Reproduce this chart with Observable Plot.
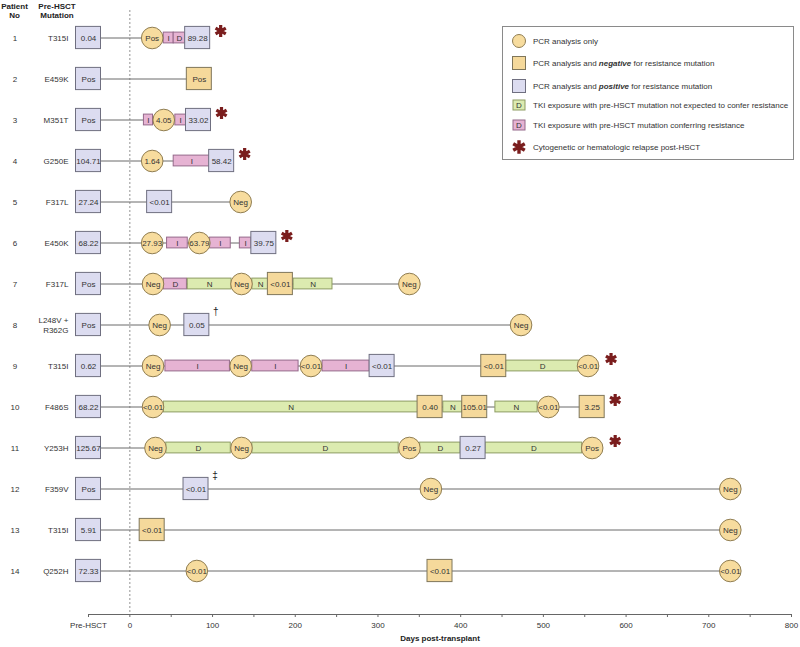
<!DOCTYPE html>
<html>
<head>
<meta charset="utf-8">
<script src="https://cdn.jsdelivr.net/npm/d3@7"></script>
<script src="https://cdn.jsdelivr.net/npm/@observablehq/plot@0.6"></script>
<style>
  body { margin: 0; background: #fff; font-family: "Liberation Sans", Arial, sans-serif; }
  #wrap { position: relative; width: 800px; height: 647px; }
  .hdr { position: absolute; font-weight: bold; font-size: 8px; line-height: 9px; text-align: center; color: #222; }
  #legend { position: absolute; left: 502px; top: 26px; width: 290px; height: 132px; border: 1px solid #8a8a8a; background: #fff; }
  #legend svg { display: block; }
</style>
</head>
<body>
<div id="wrap">
  <div class="hdr" style="left:0px;top:2px;width:29px;">Patient<br>No</div>
  <div class="hdr" style="left:32px;top:2px;width:50px;">Pre-HSCT<br>Mutation</div>
  <div id="chart"></div>
  <div id="legend"></div>
</div>
<script>
// ---------- data ----------
const patients = d3.range(1, 15);
const mutations = ["T315I","E459K","M351T","G250E","F317L","E450K","F317L","L248V +\nR362G","T315I","F486S","Y253H","F359V","T315I","Q252H"];
const preHSCTValues = ["0.04","Pos","Pos","104.71","27.24","68.22","Pos","Pos","0.62","68.22","125.67","Pos","5.91","72.33"];
const preHSCTDay = -50;

// PCR analysis only (circles)
const pcrOnly = [
  {p:1, day:27, label:"Pos"},
  {p:3, day:41, label:"4.05"},
  {p:4, day:27, label:"1.64"},
  {p:5, day:134, label:"Neg"},
  {p:6, day:27, label:"27.93"},
  {p:6, day:84, label:"63.79"},
  {p:7, day:28, label:"Neg"},
  {p:7, day:135, label:"Neg"},
  {p:7, day:338, label:"Neg"},
  {p:8, day:36, label:"Neg"},
  {p:8, day:473, label:"Neg"},
  {p:9, day:28, label:"Neg"},
  {p:9, day:134, label:"Neg"},
  {p:9, day:219, label:"<0.01"},
  {p:9, day:554, label:"<0.01"},
  {p:10, day:28, label:"<0.01"},
  {p:10, day:506, label:"<0.01"},
  {p:11, day:31, label:"Neg"},
  {p:11, day:135, label:"Neg"},
  {p:11, day:338, label:"Pos"},
  {p:11, day:559, label:"Pos"},
  {p:12, day:364, label:"Neg"},
  {p:12, day:726, label:"Neg"},
  {p:13, day:726, label:"Neg"},
  {p:14, day:81, label:"<0.01"},
  {p:14, day:726, label:"<0.01"}
];

// PCR analysis and negative for resistance mutation
const pcrNegative = [
  {p:2, day:84, label:"Pos"},
  {p:7, day:182, label:"<0.01"},
  {p:9, day:440, label:"<0.01"},
  {p:10, day:363, label:"0.40"},
  {p:10, day:417, label:"105.01"},
  {p:10, day:559, label:"3.25"},
  {p:13, day:27, label:"<0.01"},
  {p:14, day:375, label:"<0.01"}
];

// PCR analysis and positive for resistance mutation (post-HSCT)
const pcrPositive = [
  {p:1, day:82, label:"89.28"},
  {p:3, day:83, label:"33.02"},
  {p:4, day:111, label:"58.42"},
  {p:5, day:36, label:"<0.01"},
  {p:6, day:162, label:"39.75"},
  {p:8, day:81, label:"0.05", note:"\u2020"},
  {p:9, day:305, label:"<0.01"},
  {p:11, day:415, label:"0.27"},
  {p:12, day:80, label:"<0.01", note:"\u2021"}
];

// TKI exposure with pre-HSCT mutation conferring resistance
const tkiResistant = [
  {p:1, start:41, end:53, drug:"I"},
  {p:1, start:53, end:67, drug:"D"},
  {p:3, start:17, end:28, drug:"I"},
  {p:3, start:55, end:68, drug:"I"},
  {p:4, start:53, end:97, drug:"I"},
  {p:6, start:45, end:70, drug:"I"},
  {p:6, start:97, end:122, drug:"I"},
  {p:6, start:133, end:147, drug:"I"},
  {p:7, start:41, end:69, drug:"D"},
  {p:9, start:43, end:121, drug:"I"},
  {p:9, start:148, end:204, drug:"I"},
  {p:9, start:233, end:290, drug:"I"}
];

// TKI exposure with pre-HSCT mutation not expected to confer resistance
const tkiNotResistant = [
  {p:7, start:70, end:123, drug:"N"},
  {p:7, start:148, end:168, drug:"N"},
  {p:7, start:198, end:245, drug:"N"},
  {p:9, start:455, end:543, drug:"D"},
  {p:10, start:41, end:349, drug:"N"},
  {p:10, start:379, end:402, drug:"N"},
  {p:10, start:442, end:493, drug:"N"},
  {p:11, start:44, end:122, drug:"D"},
  {p:11, start:148, end:325, drug:"D"},
  {p:11, start:351, end:400, drug:"D"},
  {p:11, start:430, end:547, drug:"D"}
];

// Cytogenetic or hematologic relapse post-HSCT
const relapsePatients = [1, 3, 4, 6, 9, 10, 11];

const tickValues = d3.range(-50, 801, 50);
const tickLabels = tickValues.map(v => v === -50 ? "Pre-HSCT" : (v % 100 === 0 ? String(v) : ""));

const legendItems = [
  {kind:"circle", html:"PCR analysis only"},
  {kind:"neg", html:"PCR analysis and <tspan font-weight='bold' font-style='italic'>negative</tspan> for resistance mutation"},
  {kind:"pos", html:"PCR analysis and <tspan font-weight='bold' font-style='italic'>positive</tspan> for resistance mutation"},
  {kind:"green", html:"TKI exposure with pre-HSCT mutation not expected to confer resistance"},
  {kind:"pink", html:"TKI exposure with pre-HSCT mutation conferring resistance"},
  {kind:"star", html:"Cytogenetic or hematologic relapse post-HSCT"}
];

// ---------- styles ----------
const FONT = "'Liberation Sans', Arial, sans-serif";
const C = {
  circleFill: "#f7dc9e", circleStroke: "#8f7d52",
  negFill: "#f5d99b", negStroke: "#7f765a",
  posFill: "#dcdcf0", posStroke: "#6f6f80",
  pinkFill: "#e6b3d3", pinkStroke: "#94698a",
  greenFill: "#dcebb0", greenStroke: "#8d9b62",
  star: "#7a1d1d", line: "#6a6a6a", text: "#333"
};

// ---------- derived ----------
const preHSCT = patients.map((p, i) => ({p, day: preHSCTDay, label: preHSCTValues[i]}));
const allEvents = [...pcrOnly, ...pcrNegative, ...pcrPositive];
const rowSpans = patients.map(p => ({p, first: preHSCTDay, last: d3.max(allEvents.filter(e => e.p === p), e => e.day)}));
const lastDay = new Map(rowSpans.map(d => [d.p, d.last]));
const stars = relapsePatients.map(p => ({p, day: lastDay.get(p)}));
const mutRows = patients.map((p, i) => ({p, mutation: mutations[i]}));

const BAND_INSET_SQ = 9.4, BAND_INSET_BAR = 15.1, HALF_SQ = -12.5;
const square = (data, fill, stroke) => Plot.barX(data, {
  x1: "day", x2: "day", y: "p", fill, stroke, strokeWidth: 1,
  insetLeft: HALF_SQ, insetRight: HALF_SQ, insetTop: BAND_INSET_SQ, insetBottom: BAND_INSET_SQ
});
const bar = (data, fill, stroke) => Plot.barX(data, {
  x1: "start", x2: "end", y: "p", fill, stroke, strokeWidth: 1,
  insetTop: BAND_INSET_BAR, insetBottom: BAND_INSET_BAR
});
const label = (data, x = "day", text = "label") => Plot.text(data, {x, y: "p", text, fill: C.text, fontSize: 8});

const chart = Plot.plot({
  width: 800, height: 647,
  marginLeft: 88, marginRight: 9, marginTop: 10, marginBottom: 33,
  style: {fontFamily: FONT, fontSize: "8px", color: C.text, background: "transparent"},
  x: {domain: [-50, 800]},
  y: {type: "band", domain: patients, padding: 0, insetTop: 5.35, insetBottom: 20.35, axis: null},
  marks: [
    Plot.ruleX([0], {stroke: "#777", strokeDasharray: "2,2", strokeWidth: 0.8}),
    Plot.frame({anchor: "bottom", stroke: "#666"}),
    Plot.axisX({ticks: tickValues, tickFormat: (d, i) => tickLabels[tickValues.indexOf(d)], tickSize: 3, tickPadding: 5, stroke: "#666", fill: C.text, fontSize: 8, label: null}),
    Plot.text(["Days post-transplant"], {text: d => d, frameAnchor: "bottom", dy: 26, fontWeight: "bold", fontSize: 8, fill: "#222"}),
    // patient and mutation columns
    Plot.text(mutRows, {y: "p", text: d => String(d.p), frameAnchor: "left", dx: -73.5, textAnchor: "middle", fill: C.text, fontSize: 8}),
    Plot.text(mutRows, {y: "p", text: "mutation", frameAnchor: "left", dx: -20, textAnchor: "end", fill: C.text, fontSize: 8, lineHeight: 1.15}),
    // timelines
    Plot.ruleY(rowSpans, {y: "p", x1: "first", x2: "last", stroke: C.line, strokeWidth: 1}),
    // TKI bars
    bar(tkiResistant, C.pinkFill, C.pinkStroke),
    bar(tkiNotResistant, C.greenFill, C.greenStroke),
    label(tkiResistant, d => (d.start + d.end) / 2, "drug"),
    label(tkiNotResistant, d => (d.start + d.end) / 2, "drug"),
    // squares
    square(preHSCT, C.posFill, C.posStroke),
    square(pcrPositive, C.posFill, C.posStroke),
    square(pcrNegative, C.negFill, C.negStroke),
    // circles
    Plot.dot(pcrOnly, {x: "day", y: "p", r: 10.8, fill: C.circleFill, stroke: C.circleStroke, strokeWidth: 1}),
    label(preHSCT), label(pcrPositive), label(pcrNegative), label(pcrOnly),
    // footnote marks
    Plot.text(pcrPositive.filter(d => d.note), {x: "day", y: "p", text: "note", dx: 19, dy: -13, fontSize: 10, fill: "#222"}),
    // relapse stars
    Plot.dot(stars, {x: "day", y: "p", symbol: "asterisk", r: 5.6, stroke: C.star, strokeWidth: 3.2, dx: 23, dy: -7})
  ]
});
document.getElementById("chart").appendChild(chart);

// ---------- legend ----------
const lg = d3.select("#legend").append("svg").attr("width", 290).attr("height", 132)
  .style("font-family", FONT).style("font-size", "8px");
const rowY = [14, 36, 59, 78, 98, 120];
legendItems.forEach((it, i) => {
  const y = rowY[i];
  const g = lg.append("g");
  if (it.kind === "circle") {
    g.append("circle").attr("cx", 16).attr("cy", y).attr("r", 6.5).attr("fill", C.circleFill).attr("stroke", C.circleStroke);
  } else if (it.kind === "neg" || it.kind === "pos") {
    g.append("rect").attr("x", 9.5).attr("y", y - 6.5).attr("width", 13).attr("height", 13)
      .attr("fill", it.kind === "neg" ? C.negFill : C.posFill).attr("stroke", it.kind === "neg" ? C.negStroke : C.posStroke);
  } else if (it.kind === "green" || it.kind === "pink") {
    g.append("rect").attr("x", 10).attr("y", y - 5).attr("width", 12).attr("height", 10)
      .attr("fill", it.kind === "green" ? C.greenFill : C.pinkFill).attr("stroke", it.kind === "green" ? C.greenStroke : C.pinkStroke);
    g.append("text").attr("x", 16).attr("y", y).attr("dy", "0.35em").attr("text-anchor", "middle").attr("fill", C.text).text("D");
  } else {
    g.append("path").attr("transform", `translate(16,${y})`)
      .attr("d", d3.symbol(d3.symbolAsterisk, Math.PI * 6.3 * 6.3)())
      .attr("stroke", C.star).attr("stroke-width", 3.4).attr("fill", "none");
  }
  g.append("text").attr("x", 30).attr("y", y).attr("dy", "0.35em").attr("fill", C.text).html(it.html);
});
</script>
</body>
</html>
